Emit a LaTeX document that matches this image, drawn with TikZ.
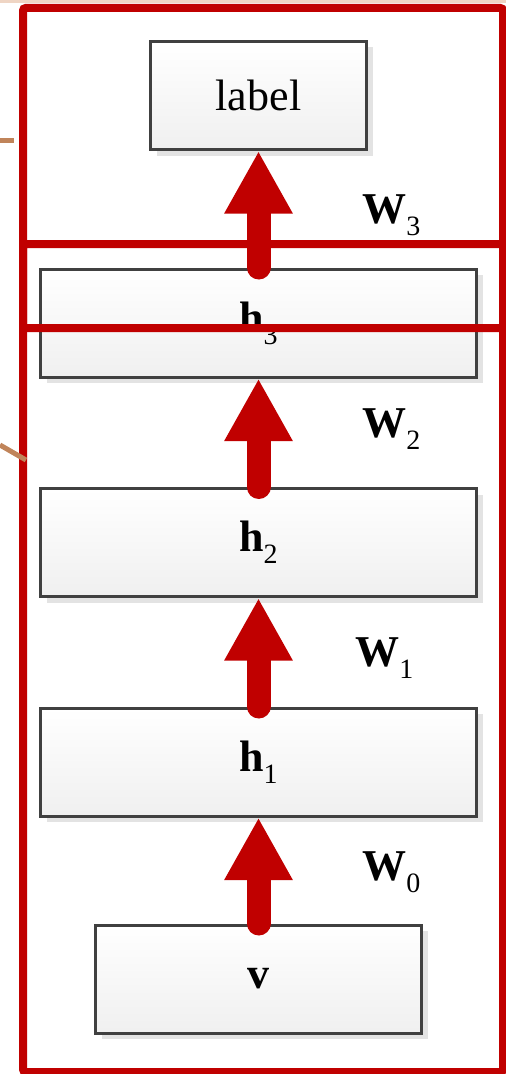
\documentclass[tikz,border=0pt]{standalone}
\usepackage{fontspec}
\setmainfont{Liberation Serif}
\usetikzlibrary{arrows.meta,shadows}

\definecolor{netred}{RGB}{192,0,0}
\definecolor{linkbrown}{RGB}{192,132,90}
\definecolor{edgetint}{RGB}{239,213,196}

\newcommand{\lowsub}[1]{\raisebox{-9pt}{\fontsize{21}{24}\selectfont #1}}

\tikzset{
  layer/.style={draw=black!75, line width=2.25pt, top color=white, bottom color=black!6,
    drop shadow={fill=black!11, opacity=1, shadow xshift=4.5pt, shadow yshift=-4.5pt},
    minimum height=81pt, inner sep=0pt, font=\fontsize{33}{40}\selectfont},
  up/.style={netred, line width=18pt, line cap=round,
    -{Triangle[length=47pt, width=48pt]}},
  wlab/.style={anchor=base west, inner sep=0pt, font=\fontsize{33}{40}\selectfont\bfseries},
}

\begin{document}
\begin{tikzpicture}[x=0.75pt, y=-0.75pt]
    \useasboundingbox (0, 0) rectangle (506, 1074);
    \fill[edgetint] (0, 0) rectangle (506, 3);

    \node[layer, minimum width=162pt] (lab) at (258.5, 95.5) {label};
    \node[layer, minimum width=327pt] (h3) at (258.5, 323) {\textbf{h}\lowsub{3}};
    \node[layer, minimum width=327pt] (h2) at (258.5, 542.5) {\textbf{h}\lowsub{2}};
    \node[layer, minimum width=327pt] (h1) at (258.5, 762) {\textbf{h}\lowsub{1}};
    \node[layer, minimum width=244.5pt] (v) at (258.5, 979) {\textbf{v}};

    \draw[up] (h3.north) -- (lab.south);
    \draw[up] (h2.north) -- (h3.south);
    \draw[up] (h1.north) -- (h2.south);
    \draw[up] (v.north) -- (h1.south);

    \node[wlab] (w3) at (362, 223) {W\lowsub{\mdseries 3}};
    \node[wlab] (w2) at (362, 437) {W\lowsub{\mdseries 2}};
    \node[wlab] (w1) at (355, 666) {W\lowsub{\mdseries 1}};
    \node[wlab] (w0) at (362, 880) {W\lowsub{\mdseries 0}};

    % the two overlapping frames
    \draw[netred, line width=6pt, rounded corners=2pt] (23, 8) rectangle (503, 328);
    \draw[netred, line width=6pt, rounded corners=2pt] (23, 244) rectangle (503, 1072);

    \coordinate (top) at (14, 140.5);
    \coordinate (bot) at (26, 460);
    \draw[linkbrown, line width=3.75pt] (0, 140.5) -- (top);
    \draw[linkbrown, line width=3.75pt] (0, 445) -- (bot);
  \end{tikzpicture}
\end{document}
